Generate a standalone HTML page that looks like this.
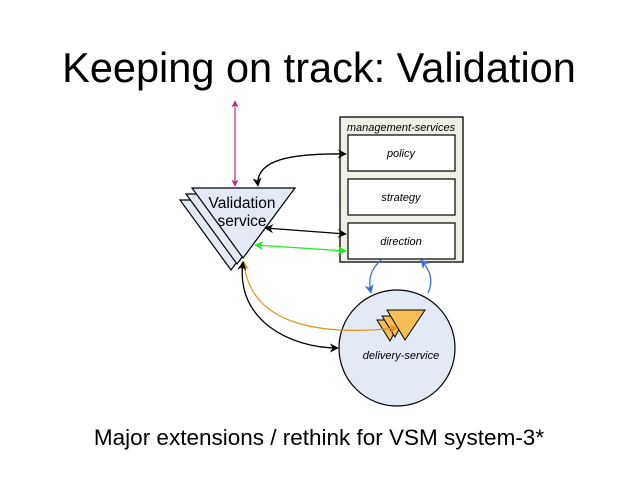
<!DOCTYPE html>
<html><head><style>
body{margin:0;background:#fff;}
svg{display:block;font-family:"Liberation Sans",sans-serif;}
</style></head><body>
<svg width="638" height="479" viewBox="0 0 638 479" xmlns="http://www.w3.org/2000/svg">
<defs>
<marker id="ak" viewBox="0 0 10 10" refX="9" refY="5" markerWidth="7" markerHeight="7" orient="auto-start-reverse"><path d="M0,0 L10,5 L0,10 L3,5z" fill="#000"/></marker>
<marker id="ag" viewBox="0 0 10 10" refX="9" refY="5" markerWidth="7" markerHeight="7" orient="auto-start-reverse"><path d="M0,0 L10,5 L0,10 L3,5z" fill="#2e2"/></marker>
<marker id="am" viewBox="0 0 10 10" refX="9" refY="5" markerWidth="6" markerHeight="6" orient="auto-start-reverse"><path d="M0,0 L10,5 L0,10 L3,5z" fill="#c0287a"/></marker>
<marker id="ab" viewBox="0 0 10 10" refX="9" refY="5" markerWidth="7" markerHeight="7" orient="auto-start-reverse"><path d="M0,0 L10,5 L0,10 L3,5z" fill="#3a6fd8"/></marker>
<marker id="ao" viewBox="0 0 10 10" refX="9" refY="5" markerWidth="7" markerHeight="7" orient="auto-start-reverse"><path d="M0,0 L10,5 L0,10 L3,5z" fill="#e8901a"/></marker>
</defs>
<text x="319" y="82" font-size="41.5" text-anchor="middle">Keeping on track: Validation</text>
<text x="319" y="445" font-size="22.5" text-anchor="middle">Major extensions / rethink for VSM system-3*</text>

<rect x="340" y="117" width="123" height="145" fill="#efefe6" stroke="#000" stroke-width="1.3"/>
<text x="401" y="131" font-size="11" font-style="italic" text-anchor="middle">management-services</text>
<rect x="348" y="135" width="107" height="36" fill="#fff" stroke="#000" stroke-width="1.2"/>
<text x="401" y="157" font-size="11" font-style="italic" text-anchor="middle">policy</text>
<rect x="348" y="179" width="107" height="36" fill="#fff" stroke="#000" stroke-width="1.2"/>
<text x="401" y="201" font-size="11" font-style="italic" text-anchor="middle">strategy</text>
<rect x="348" y="223" width="107" height="36" fill="#fff" stroke="#000" stroke-width="1.2"/>
<text x="401" y="245" font-size="11" font-style="italic" text-anchor="middle">direction</text>

<circle cx="397" cy="348" r="58" fill="#e3e9f5" stroke="#000" stroke-width="1.2"/>
<text x="401" y="359" font-size="11" font-style="italic" text-anchor="middle">delivery-service</text>
<polygon points="377,320 401,320 390,341" fill="#f7be55" stroke="#000"/>
<polygon points="382,316 406,316 395,337" fill="#f7be55" stroke="#000"/>
<polygon points="387,310 425,310 405,340" fill="#f7be55" stroke="#000"/>

<polygon points="180,200 283,200 231,270" fill="#e3e9f5" stroke="#000" stroke-width="1.2"/>
<polygon points="186,194 289,194 237,264" fill="#e3e9f5" stroke="#000" stroke-width="1.2"/>
<polygon points="192,188 295,188 243,258" fill="#e3e9f5" stroke="#000" stroke-width="1.2"/>
<text x="242" y="208" font-size="15.5" text-anchor="middle">Validation</text>
<text x="242" y="226" font-size="15.5" text-anchor="middle">service</text>

<line x1="235" y1="101" x2="235" y2="186" stroke="#c0287a" stroke-width="1.2" marker-start="url(#am)" marker-end="url(#am)"/>
<path d="M258,186 C255,160 290,153 346,154" fill="none" stroke="#000" stroke-width="1.3" marker-start="url(#ak)" marker-end="url(#ak)"/>
<line x1="265" y1="228" x2="346" y2="234" stroke="#000" stroke-width="1.3" marker-start="url(#ak)" marker-end="url(#ak)"/>
<line x1="255" y1="245" x2="346" y2="251" stroke="#2e2" stroke-width="1.3" marker-start="url(#ag)" marker-end="url(#ag)"/>
<path d="M244,262 C250,330 330,335 397,328" fill="none" stroke="#e8901a" stroke-width="1.2" marker-start="url(#ao)" marker-end="url(#ao)"/>
<path d="M243,262 C235,320 290,348 338,348" fill="none" stroke="#000" stroke-width="1.3" marker-start="url(#ak)" marker-end="url(#ak)"/>
<path d="M381,260 C370,270 368,280 371,293" fill="none" stroke="#3a6fd8" stroke-width="1.3" marker-end="url(#ab)"/>
<path d="M428,293 C434,280 430,270 421,260" fill="none" stroke="#3a6fd8" stroke-width="1.3" marker-end="url(#ab)"/>
</svg>
</body></html>
